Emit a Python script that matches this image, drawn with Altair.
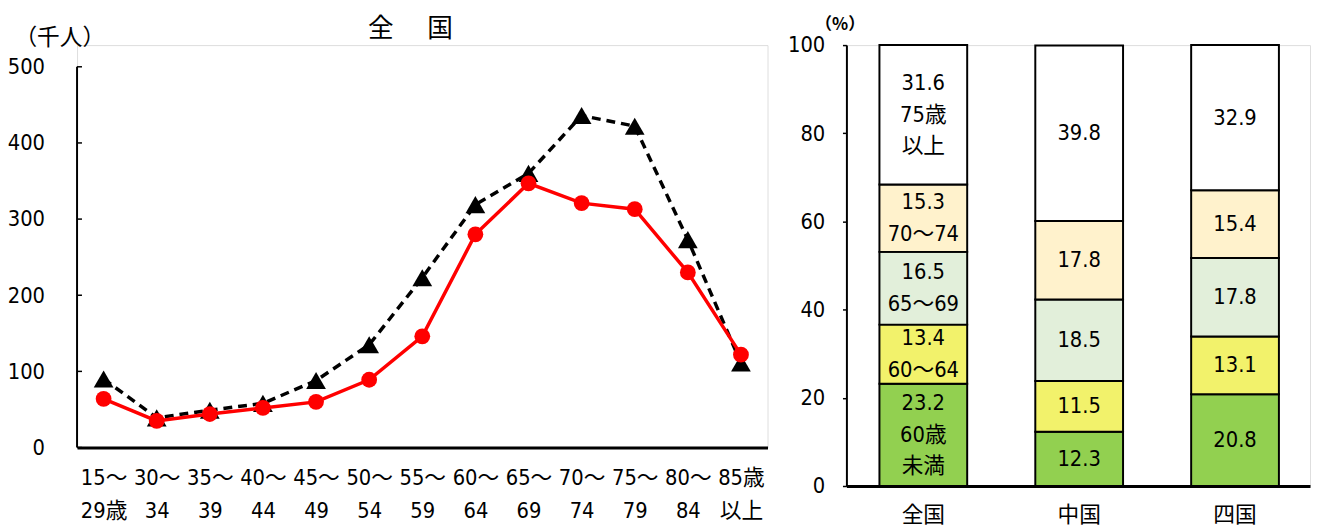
import altair as alt
import pandas as pd

FONT = "'Liberation Sans Narrow', 'DejaVu Sans Condensed', 'Noto Sans CJK JP'"
CJK = "Noto Sans CJK JP"

# ---- left: age distribution (thousand persons) ----
age_labels = ["15～\n29歳", "30～\n34", "35～\n39", "40～\n44", "45～\n49", "50～\n54",
              "55～\n59", "60～\n64", "65～\n69", "70～\n74", "75～\n79", "80～\n84", "85歳\n以上"]
series_red = [64, 35, 44, 52, 60, 89, 146, 280, 347, 321, 313, 230, 122]
series_black = [90, 39, 49, 58, 88, 135, 223, 319, 360, 436, 422, 273, 111]
y_ticks = [0, 100, 200, 300, 400, 500]
title_chars = ["全", "国"]

# ---- right: composition (%) ----
regions = ["全国", "中国", "四国"]
groups = ["60歳未満", "60～64", "65～69", "70～74", "75歳以上"]
group_names_2line = ["60歳\n未満", "60～64", "65～69", "70～74", "75歳\n以上"]
share_zenkoku = [23.2, 13.4, 16.5, 15.3, 31.6]
share_chugoku = [12.3, 11.5, 18.5, 17.8, 39.8]
share_shikoku = [20.8, 13.1, 17.8, 15.4, 32.9]
group_colors = ["#92D050", "#F2F26B", "#E2EFDA", "#FFF2CC", "#FFFFFF"]
pct_ticks = [0, 20, 40, 60, 80, 100]

rows = []
for i, lab in enumerate(age_labels):
    rows.append({"age": lab, "idx": i, "s": "black", "v": series_black[i]})
    rows.append({"age": lab, "idx": i, "s": "red", "v": series_red[i]})
df_line = pd.DataFrame(rows)
df_ticks = pd.DataFrame({"v": y_ticks})

LH = 408  # left plot height (top aligned with right plot)
ymax = 500 * LH / 386.0

xenc = alt.X("age:N", sort=age_labels,
             scale=alt.Scale(type="point", padding=0.5),
             axis=alt.Axis(title=None, labelAngle=0, ticks=False, domainColor="black",
                           domainWidth=3, labelExpr="split(datum.label, '\\n')",
                           labelFont=FONT, labelFontSize=22, labelLineHeight=34,
                           labelColor="black", labelPadding=20, labelBaseline="top"))
yscale = alt.Scale(domain=[0, ymax], nice=False)
yaxis = alt.Axis(values=y_ticks, domain=False, ticks=False, grid=False, labelPadding=33,
                 labelFont=FONT, labelFontSize=22, labelColor="black",
                 title="（千人）", titleAngle=0, titleAlign="left", titleBaseline="middle",
                 titleX=-64, titleY=-8, titleFont=CJK, titleFontSize=23,
                 titleFontWeight="normal", titleColor="black")

base = alt.Chart(df_line)
black = base.transform_filter("datum.s == 'black'")
red = base.transform_filter("datum.s == 'red'")

yline = alt.Chart(df_ticks).transform_filter("datum.v == 0").mark_rule(color="black", strokeWidth=2).encode(
    x=alt.value(0), y=alt.Y("v:Q", scale=yscale, axis=yaxis), y2=alt.datum(500))
inticks = alt.Chart(df_ticks).mark_rule(color="black", strokeWidth=1.5).encode(
    x=alt.value(0), x2=alt.value(5), y=alt.Y("v:Q", scale=yscale))

bl = black.mark_line(color="black", strokeWidth=3.5, strokeDash=[9, 6]).encode(
    x=xenc, y=alt.Y("v:Q", scale=yscale))
bp = black.mark_point(shape="triangle-up", filled=True, color="black", size=400, opacity=1).encode(
    x=xenc, y=alt.Y("v:Q", scale=yscale))
rl = red.mark_line(color="#FF0000", strokeWidth=3.5).encode(
    x=xenc, y=alt.Y("v:Q", scale=yscale))
rp = red.mark_point(shape="circle", filled=True, color="#FF0000", size=256, opacity=1).encode(
    x=xenc, y=alt.Y("v:Q", scale=yscale))

title_marks = []
for ch, xpos in zip(title_chars, [308, 368]):
    title_marks.append(
        alt.Chart(df_ticks).transform_filter("datum.v == 0").mark_text(
            text=ch, font=CJK, fontSize=26, color="black", align="center", baseline="middle"
        ).encode(x=alt.value(xpos), y=alt.value(-16))
    )

left = alt.layer(yline, inticks, bl, bp, rl, rp, *title_marks).properties(width=700, height=LH)

# ---- right chart data ----
rrows = []
for reg, shares in zip(regions, [share_zenkoku, share_chugoku, share_shikoku]):
    for j, (g, v) in enumerate(zip(groups, shares)):
        txt = f"{v:.1f}"
        if reg == "全国":
            txt = txt + "\n" + group_names_2line[j]
        rrows.append({"region": reg, "group": g, "order": j, "value": v, "label": txt,
                      "nl": txt.count("\n") + 1})
df_bar = pd.DataFrame(rrows)

RH = 447
rx = alt.X("region:N", sort=regions,
           scale=alt.Scale(type="band", paddingInner=0.437, paddingOuter=0.2057, align=0.515),
           axis=alt.Axis(title=None, labelAngle=0, ticks=False, domainColor="black", domainWidth=3,
                         labelFont=CJK, labelFontSize=22, labelColor="black", labelPadding=19))
ryscale = alt.Scale(domain=[0, 100], nice=False)
ryaxis = alt.Axis(values=pct_ticks, grid=False, tickSize=4, tickColor="black", tickWidth=1.5,
                  domainColor="black", domainWidth=2, labelPadding=18,
                  labelFont=FONT, labelFontSize=22, labelColor="black",
                  title="（%）", titleAngle=0, titleAlign="left", titleBaseline="middle",
                  titleX=-32, titleY=-21, titleFont=CJK, titleFontSize=17,
                  titleFontWeight="bold", titleColor="black")

rbase = alt.Chart(df_bar).transform_stack(
    stack="value", groupby=["region"], as_=["y0", "y1"], sort=[alt.SortField("order")]
).transform_calculate(mid="(datum.y0 + datum.y1) / 2")

bars = rbase.mark_bar(stroke="black", strokeWidth=2).encode(
    x=rx,
    y=alt.Y("y0:Q", scale=ryscale, axis=ryaxis),
    y2="y1:Q",
    color=alt.Color("group:N", scale=alt.Scale(domain=groups, range=group_colors), legend=None),
)

LINE_H = 32
label_layers = []
for n in (1, 2, 3):
    label_layers.append(
        rbase.transform_filter(f"datum.nl == {n}").mark_text(
            font=FONT, fontSize=22, color="black", lineBreak="\n", lineHeight=LINE_H,
            baseline="middle", align="center", dy=-(n - 1) * LINE_H / 2
        ).encode(x=rx, y=alt.Y("mid:Q", scale=ryscale), text="label:N")
    )

right = alt.layer(bars, *label_layers).properties(width=470, height=RH)

chart = alt.hconcat(left, right, spacing=18).properties(
    padding={"left": -2, "top": 3, "right": 0, "bottom": 0}
).configure_view(stroke=None).configure(font=FONT)

chart.save("out.html", embed_options={"renderer": "svg", "actions": False})
